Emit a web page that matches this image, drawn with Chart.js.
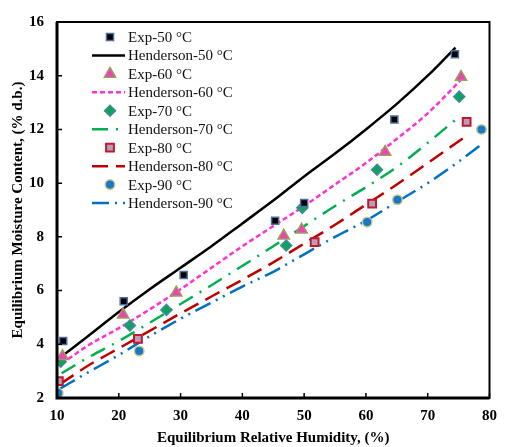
<!DOCTYPE html>
<html>
<head>
<meta charset="utf-8">
<script src="https://cdn.jsdelivr.net/npm/chart.js@4.4.1/dist/chart.umd.min.js"></script>
<style>
    html, body { margin: 0; padding: 0; background: #fff; }
</style>
</head>
<body>
<canvas id="graficaHumedad" width="506" height="447"></canvas>
<script>
// valores
var xTicks = [10, 20, 30, 40, 50, 60, 70, 80];
var yTicks = [2, 4, 6, 8, 10, 12, 14, 16];

var rhExp50 = [11.0, 20.8, 30.5, 45.3, 50.0, 64.6, 74.4];
var mcExp50 = [4.12, 5.60, 6.58, 8.60, 9.26, 12.37, 14.80];
var rhExp60 = [10.9, 20.7, 29.3, 46.7, 49.6, 63.1, 75.4];
var mcExp60 = [3.55, 5.10, 5.92, 8.04, 8.26, 11.16, 13.95];
var rhExp70 = [10.6, 21.8, 27.7, 47.1, 49.7, 61.8, 75.1];
var mcExp70 = [3.35, 4.70, 5.28, 7.68, 9.08, 10.50, 13.22];
var rhExp80 = [10.3, 23.1, 51.7, 61.0, 76.3];
var mcExp80 = [2.63, 4.20, 7.80, 9.24, 12.28];
var rhExp90 = [10.2, 23.3, 60.2, 65.1, 78.7];
var mcExp90 = [2.18, 3.75, 8.55, 9.38, 12.00];

var rhHen50 = [10.75, 15, 20, 25, 30, 35, 40, 45, 50, 55, 60, 65, 70, 74.5];
var mcHen50 = [3.55, 4.30, 5.20, 6.05, 6.85, 7.65, 8.50, 9.35, 10.25, 11.10, 12.00, 12.95, 14.00, 15.05];
var rhHen60 = [10.75, 15, 20, 25, 30, 35, 40, 45, 50, 55, 60, 65, 70, 75.4];
var mcHen60 = [3.28, 3.95, 4.60, 5.30, 6.05, 6.85, 7.65, 8.40, 9.15, 9.95, 10.75, 11.65, 12.60, 13.85];
var rhHen70 = [10.75, 15, 20, 25, 30, 35, 40, 45, 50, 55, 60, 65, 70, 74.6];
var mcHen70 = [2.92, 3.50, 4.12, 4.80, 5.50, 6.20, 6.92, 7.65, 8.40, 9.15, 9.85, 10.60, 11.50, 12.38];
var rhHen80 = [10.5, 15, 20, 25, 30, 35, 40, 45, 50, 55, 60, 65, 70, 76.5];
var mcHen80 = [2.52, 3.20, 3.85, 4.50, 5.15, 5.78, 6.40, 7.05, 7.75, 8.45, 9.20, 9.95, 10.75, 11.80];
var rhHen90 = [10.5, 15, 20, 25, 30, 35, 40, 45, 50, 55, 60, 65, 70, 75, 79];
var mcHen90 = [2.35, 2.95, 3.60, 4.30, 4.95, 5.55, 6.15, 6.70, 7.35, 8.00, 8.60, 9.30, 10.00, 10.80, 11.50];

function puntos(xs, ys) {
    return xs.map(function (v, i) { return { x: v, y: ys[i] }; });
}

function serieExp(label, xs, ys, estilo, radio, relleno, borde, grosor) {
    return {
        label: label,
        data: puntos(xs, ys),
        showLine: false,
        pointStyle: estilo,
        pointRadius: radio,
        pointHoverRadius: radio,
        backgroundColor: relleno,
        borderColor: borde,
        borderWidth: grosor,
        order: 0
    };
}

function serieHen(label, xs, ys, color, guiones) {
    return {
        label: label,
        data: puntos(xs, ys),
        showLine: true,
        pointRadius: 0,
        borderColor: color,
        backgroundColor: color,
        borderWidth: 2.5,
        borderDash: guiones,
        cubicInterpolationMode: 'monotone',
        fill: false,
        order: 1
    };
}

var fuenteEje = { family: "'Liberation Serif', 'Times New Roman', serif", size: 15, weight: 'bold' };

// marco del grafico y marcas hacia adentro
var marcoPlugin = {
    id: 'marco',
    afterDraw: function (chart) {
        var c = chart.ctx, a = chart.chartArea;
        var xs = chart.scales.x, ys = chart.scales.y;
        c.save();
        c.strokeStyle = '#000';
        c.lineWidth = 2;
        c.strokeRect(a.left, a.top, a.right - a.left, a.bottom - a.top);
        c.lineWidth = 3;
        c.beginPath();
        c.moveTo(a.left, a.top);
        c.lineTo(a.left, a.bottom);
        c.lineTo(a.right, a.bottom);
        c.stroke();
        c.lineWidth = 1.5;
        c.beginPath();
        xs.ticks.forEach(function (t, i) {
            var px = xs.getPixelForTick(i);
            c.moveTo(px, a.bottom);
            c.lineTo(px, a.bottom - 5);
        });
        ys.ticks.forEach(function (t, i) {
            var py = ys.getPixelForTick(i);
            c.moveTo(a.left, py);
            c.lineTo(a.left + 5, py);
        });
        c.stroke();
        c.restore();
    }
};

// leyenda dentro del area del grafico
var leyendaPlugin = {
    id: 'leyenda',
    afterDraw: function (chart) {
        var c = chart.ctx, a = chart.chartArea;
        var x0 = a.left + 35, x1 = a.left + 68, xm = a.left + 53, xt = a.left + 71;
        var y0 = a.top + 15, dy = 18.45;
        chart.data.datasets.forEach(function (ds, i) {
            var y = y0 + i * dy;
            c.save();
            if (ds.showLine) {
                c.strokeStyle = ds.borderColor;
                c.lineWidth = ds.borderWidth;
                c.setLineDash(ds.borderDash || []);
                c.beginPath();
                c.moveTo(x0, y);
                c.lineTo(x1, y);
                c.stroke();
            } else {
                c.fillStyle = ds.backgroundColor;
                c.strokeStyle = ds.borderColor;
                c.lineWidth = ds.borderWidth;
                Chart.helpers.drawPoint(c, {
                    pointStyle: ds.pointStyle,
                    radius: ds.pointRadius,
                    borderWidth: ds.borderWidth,
                    rotation: 0
                }, xm, y);
            }
            c.setLineDash([]);
            c.fillStyle = '#111';
            c.font = "15px 'Liberation Serif', 'Times New Roman', serif";
            c.textAlign = 'left';
            c.textBaseline = 'middle';
            c.fillText(ds.label, xt, y + 1);
            c.restore();
        });
    }
};

var ctx = document.getElementById('graficaHumedad').getContext('2d');
var chart = new Chart(ctx, {
    type: 'scatter',
    data: {
        datasets: [
            serieExp('Exp-50 °C', rhExp50, mcExp50, 'rect', 5, '#000000', '#4f6f9f', 1.5),
            serieHen('Henderson-50 °C', rhHen50, mcHen50, '#000000', []),
            serieExp('Exp-60 °C', rhExp60, mcExp60, 'triangle', 6.5, '#f23fba', '#9c9c5c', 1.5),
            serieHen('Henderson-60 °C', rhHen60, mcHen60, '#ff33cc', [5, 3]),
            serieExp('Exp-70 °C', rhExp70, mcExp70, 'rectRot', 5.5, '#12a05a', '#3c8ca0', 1.5),
            serieHen('Henderson-70 °C', rhHen70, mcHen70, '#00b050', [16, 8, 2, 8]),
            serieExp('Exp-80 °C', rhExp80, mcExp80, 'rect', 5.5, '#b8a0b4', '#c01830', 2),
            serieHen('Henderson-80 °C', rhHen80, mcHen80, '#c00000', [16, 8]),
            serieExp('Exp-90 °C', rhExp90, mcExp90, 'circle', 4.8, '#1a78c8', '#cccc90', 1.5),
            serieHen('Henderson-90 °C', rhHen90, mcHen90, '#0070c0', [17, 6, 2, 6, 2, 6])
        ]
    },
    options: {
        responsive: false,
        animation: false,
        layout: { padding: { top: 17, right: 9, left: 0, bottom: 0 } },
        plugins: {
            legend: { display: false },
            tooltip: { enabled: false }
        },
        scales: {
            x: {
                type: 'linear',
                min: 10,
                max: 80,
                afterBuildTicks: function (s) { s.ticks = xTicks.map(function (v) { return { value: v }; }); },
                afterFit: function (s) { s.height = 49; },
                grid: { display: false, drawTicks: false },
                border: { display: false },
                ticks: { padding: 9, color: '#000', font: fuenteEje },
                title: {
                    display: true,
                    text: 'Equilibrium Relative Humidity, (%)',
                    color: '#000',
                    font: fuenteEje,
                    padding: { top: 0, bottom: 0 }
                }
            },
            y: {
                type: 'linear',
                min: 2,
                max: 16,
                afterBuildTicks: function (s) { s.ticks = yTicks.map(function (v) { return { value: v }; }); },
                afterFit: function (s) { s.width = 57; },
                grid: { display: false, drawTicks: false },
                border: { display: false },
                ticks: { padding: 13, color: '#000', font: fuenteEje },
                title: {
                    display: true,
                    text: 'Equilibrium Moisture Content, (% d.b.)',
                    color: '#000',
                    font: fuenteEje,
                    padding: { top: 9.5, bottom: 0 }
                }
            }
        }
    },
    plugins: [marcoPlugin, leyendaPlugin]
});
</script>
</body>
</html>
